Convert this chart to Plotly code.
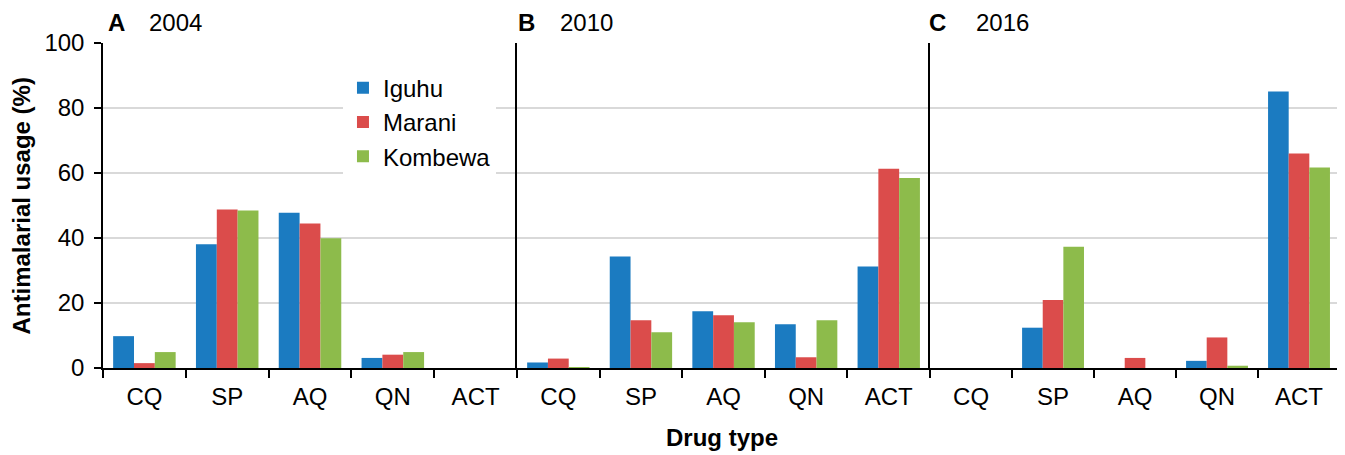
import plotly.graph_objects as go
from plotly.subplots import make_subplots

categories = ["CQ", "SP", "AQ", "QN", "ACT"]
sites = ["Iguhu", "Marani", "Kombewa"]
years = ["2004", "2010", "2016"]
panel_letters = ["A", "B", "C"]

iguhu_2004 = [9.8, 38.1, 47.8, 3.1, 0]
marani_2004 = [1.5, 48.8, 44.5, 4.1, 0]
kombewa_2004 = [4.9, 48.5, 39.9, 4.9, 0]

iguhu_2010 = [1.7, 34.3, 17.5, 13.5, 31.2]
marani_2010 = [2.9, 14.7, 16.2, 3.3, 61.3]
kombewa_2010 = [0.2, 11.0, 14.1, 14.7, 58.5]

iguhu_2016 = [0, 12.4, 0, 2.2, 85.1]
marani_2016 = [0, 20.9, 3.1, 9.4, 66.0]
kombewa_2016 = [0, 37.3, 0, 0.7, 61.7]

panels = [
    [iguhu_2004, marani_2004, kombewa_2004],
    [iguhu_2010, marani_2010, kombewa_2010],
    [iguhu_2016, marani_2016, kombewa_2016],
]
colors = ["#1b7bc1", "#db4c4b", "#8dbb4b"]

FONT = "Liberation Sans, Arial, sans-serif"
FS = 24

fig = make_subplots(rows=1, cols=3, shared_yaxes=True, horizontal_spacing=0)

for p, series in enumerate(panels):
    for s, vals in enumerate(series):
        fig.add_trace(
            go.Bar(
                x=categories,
                y=vals,
                name=sites[s],
                marker=dict(color=colors[s], line=dict(width=0)),
                offsetgroup=str(s),
                legendgroup=sites[s],
                showlegend=(p == 0),
            ),
            row=1, col=p + 1,
        )

# page has an 8px body margin, so the figure is sized/margined to compensate
fig.update_layout(
    width=1337, height=447,
    margin=dict(l=95, r=5, t=35, b=87),
    paper_bgcolor="white", plot_bgcolor="white",
    barmode="group", bargap=0.245, bargroupgap=0,
    font=dict(family=FONT, size=FS, color="black"),
    legend=dict(
        x=0.194, y=0.93, xanchor="left", yanchor="top",
        bgcolor="white", font=dict(size=FS, family=FONT),
        traceorder="grouped", tracegroupgap=0,
        itemwidth=30,
    ),
)

domains = [[0, 0.3347], [0.3347, 0.6686], [0.6686, 1]]
for i in range(1, 4):
    fig.update_xaxes(
        domain=domains[i - 1],
        type="category", categoryorder="array", categoryarray=categories,
        showline=True, linecolor="black", linewidth=1.5,
        ticks="outside", tickson="boundaries", ticklen=8, tickwidth=1.5, tickcolor="black",
        tickfont=dict(size=FS, family=FONT), ticklabelstandoff=6,
        showgrid=False, zeroline=False,
        row=1, col=i,
    )
    fig.update_yaxes(
        range=[0, 100], tickvals=[0, 20, 40, 60, 80, 100],
        showgrid=True, gridcolor="#d9d9d9", gridwidth=1.5,
        showline=True, linecolor="black", linewidth=1.5,
        zeroline=False,
        row=1, col=i,
    )

fig.update_yaxes(ticks="outside", ticklen=7, tickwidth=1.5, tickcolor="black",
                 tickfont=dict(size=FS, family=FONT), ticklabelstandoff=5, row=1, col=1)
fig.update_yaxes(showticklabels=False, ticks="", row=1, col=2)
fig.update_yaxes(showticklabels=False, ticks="", row=1, col=3)

annotations = []
letter_x = [0.0025, 0.3335, 0.6665]
year_x = [0.0355, 0.3675, 0.704]
for k in range(3):
    annotations.append(dict(
        text="<b>%s</b>" % panel_letters[k], xref="paper", yref="paper",
        x=letter_x[k], y=1.063, xanchor="left", yanchor="middle",
        showarrow=False, font=dict(size=FS, family=FONT, color="black"),
    ))
    annotations.append(dict(
        text=years[k], xref="paper", yref="paper",
        x=year_x[k], y=1.063, xanchor="left", yanchor="middle",
        showarrow=False, font=dict(size=FS, family=FONT, color="black"),
    ))
annotations.append(dict(
    text="<b>Drug type</b>", xref="paper", yref="paper",
    x=0.5, y=-0.215, xanchor="center", yanchor="middle",
    showarrow=False, font=dict(size=FS, family=FONT, color="black"),
))
annotations.append(dict(
    text="<b>Antimalarial usage (%)</b>", xref="paper", yref="paper",
    x=-0.0655, y=0.5, xanchor="center", yanchor="middle", textangle=-90,
    showarrow=False, font=dict(size=FS, family=FONT, color="black"),
))
fig.update_layout(annotations=annotations)

fig.write_html("out.html")
